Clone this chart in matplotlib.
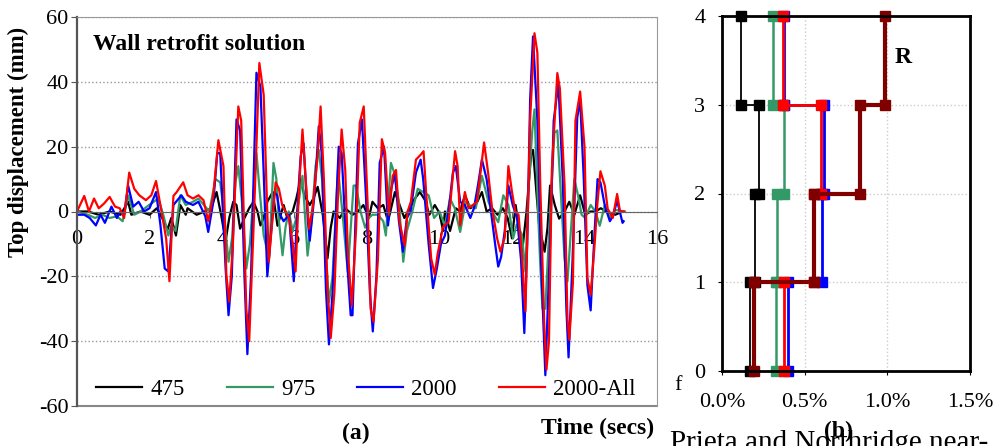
import matplotlib
matplotlib.use("Agg")
import matplotlib.pyplot as plt
from matplotlib.ticker import PercentFormatter

plt.rcParams['font.family'] = ['Liberation Serif', 'DejaVu Serif']
plt.rcParams['axes.unicode_minus'] = False

# (a) top displacement time histories, (time s, displacement mm)
d475 = [(0, 0), (0.3, 0), (0.6, -1), (0.9, 0), (1.2, -1), (1.41, 3), (1.5, -1), (1.75, 0), (2.0, -1),
        (2.2, 1), (2.35, -2), (2.5, -5.5), (2.6, -2), (2.73, -7.4), (2.85, 2), (3.0, -1), (3.05, 1),
        (3.3, -1), (3.52, 0), (3.7, 1), (3.85, 6), (3.98, -1.3), (4.1, -9), (4.2, -2), (4.31, 3),
        (4.4, 2), (4.5, -5.3), (4.62, -2), (4.75, 1), (4.87, 3), (4.98, 0), (5.06, -4.3), (5.15, -2),
        (5.25, 3), (5.4, 6), (5.53, -4.4), (5.7, 2), (5.8, -2), (5.95, 0), (6.05, 4), (6.17, 10),
        (6.27, 5), (6.42, 2), (6.52, 4), (6.64, 7.6), (6.78, -1), (6.91, -14.5), (7.0, -5), (7.08, 0),
        (7.25, -2), (7.4, 1), (7.6, -1), (7.75, 0), (7.9, 2), (8.05, -2), (8.15, 3), (8.3, 1),
        (8.45, 2), (8.58, -3), (8.77, 6), (8.9, 2), (9.03, -2), (9.18, 1), (9.32, 4), (9.46, 6),
        (9.6, 3.5), (9.72, -1), (9.87, 2), (10.0, -0.5), (10.1, -6), (10.15, 0), (10.29, -6),
        (10.45, 1), (10.57, 0), (10.7, 5), (10.85, 1), (11.0, 2), (11.17, 6), (11.3, 0), (11.45, 1),
        (11.6, -1), (11.75, 1), (11.88, -2), (12.0, -8.3), (12.1, 2), (12.28, -12.4), (12.4, 0),
        (12.53, 18), (12.58, 19), (12.68, 5), (12.75, -4.4), (12.9, -12.4), (12.98, -5), (13.05, 8),
        (13.18, 2), (13.3, -2.2), (13.45, 0), (13.58, 3), (13.72, -1), (13.88, 5), (14.02, -1),
        (14.17, 0), (14.3, 0), (14.45, 1), (14.6, 0), (14.85, -1), (15.05, 0)]

d975 = [(0, 0), (0.3, -1), (0.5, -2), (0.7, -1), (0.9, -2), (1.1, -1.5), (1.26, -3), (1.41, 5),
        (1.58, -1), (1.75, 0), (1.99, 2), (2.24, 4), (2.38, -1), (2.52, -7.4), (2.6, -4.3), (2.72, -6),
        (2.85, 5), (3.0, 2), (3.2, 3), (3.35, 4), (3.5, 2), (3.65, 0), (3.82, 10), (3.95, 9),
        (4.05, 0), (4.18, -15.5), (4.28, -8), (4.37, 9), (4.45, 14), (4.55, 3), (4.67, -17.6),
        (4.77, -10), (4.95, 18), (5.05, 5), (5.15, -7.4), (5.3, -14.5), (5.42, 15), (5.5, 10),
        (5.57, -3), (5.67, -13.5), (5.75, -5), (5.84, 0), (5.95, -6), (6.05, -2), (6.22, 11),
        (6.36, -13.6), (6.48, -2), (6.58, 14), (6.67, 19), (6.76, 10), (6.85, -10), (6.95, -28),
        (7.05, -20), (7.2, 13), (7.32, 0), (7.47, -18.5), (7.63, 8), (7.7, 8), (7.82, 0), (7.95, -5),
        (8.05, -2), (8.15, -1), (8.3, -1), (8.45, -3), (8.52, -7.4), (8.66, 15), (8.75, 12),
        (8.88, 3), (9.0, -15.5), (9.1, -6), (9.25, 0), (9.4, 7), (9.55, 6), (9.7, 5), (9.85, -2),
        (10.0, 0), (10.15, -4.4), (10.29, 4), (10.42, 1), (10.57, -6.3), (10.72, 3), (10.82, 2),
        (11.0, 1), (11.17, 11), (11.35, 3), (11.5, -1), (11.62, -3.3), (11.76, 5), (11.9, 2),
        (12.03, -8.3), (12.13, -4), (12.27, -7), (12.37, -18.5), (12.45, 6), (12.56, 25),
        (12.62, 31.5), (12.72, 0), (12.78, -16.6), (12.84, -30), (12.92, -30), (13.03, -5),
        (13.17, 24.3), (13.25, 25), (13.35, 5), (13.45, -14.5), (13.53, -21.6), (13.63, -5),
        (13.72, 10), (13.82, 5), (13.92, -1), (14.02, -2), (14.17, 2), (14.3, 0), (14.42, -4.4),
        (14.56, 2), (14.7, -2), (14.85, 0.5), (15.1, 0)]

d2000 = [(0, -1), (0.2, -1), (0.35, -2), (0.52, -4.3), (0.65, -1), (0.77, -3.5), (0.95, 1.5),
         (1.1, -2), (1.2, 0), (1.3, -1), (1.41, 8), (1.55, 1.5), (1.7, 3), (1.85, 0), (2.0, 1),
         (2.18, 6), (2.3, -4), (2.42, -17.6), (2.52, -18.5), (2.66, 2), (2.88, 5), (3.0, 3),
         (3.2, 2), (3.35, 3), (3.54, -1.5), (3.62, -6.3), (3.76, 3), (3.87, 18), (3.95, 18),
         (4.1, -17.6), (4.18, -32), (4.27, -20), (4.4, 28.4), (4.5, 25), (4.62, -20), (4.7, -44),
         (4.8, -20), (4.95, 42.8), (5.06, 38.5), (5.15, 12), (5.25, -20), (5.45, 6), (5.52, 5),
         (5.6, -1), (5.7, -3), (5.85, -1), (5.98, -21.5), (6.1, 5), (6.17, 17), (6.25, 21),
         (6.37, -3), (6.42, -9), (6.55, 5), (6.67, 26.3), (6.75, 18), (6.87, -24.7), (6.95, -41),
         (7.05, -25), (7.22, 20), (7.3, 18), (7.45, -15), (7.55, -32), (7.6, -32), (7.75, 21),
         (7.86, 28.4), (7.97, 5), (8.08, -25), (8.16, -37), (8.26, -20), (8.35, 15), (8.47, 20),
         (8.58, -4.3), (8.67, 7), (8.77, 12), (8.88, -3), (8.99, -12.4), (9.1, -2), (9.2, 0),
         (9.35, 12), (9.48, 16), (9.55, 10), (9.7, -10), (9.82, -23.6), (9.92, -18), (10.04, -10),
         (10.15, -7.4), (10.27, 2), (10.37, 12), (10.45, 14), (10.57, 3), (10.7, 2), (10.85, -2),
         (10.95, 1), (11.06, 8), (11.17, 16), (11.3, 10), (11.42, 0), (11.54, -10.5), (11.62, -17),
         (11.7, -14), (11.8, -6), (11.9, 8), (12.02, 2), (12.14, -2), (12.25, -15), (12.34, -37.5),
         (12.42, -10), (12.5, 34.5), (12.58, 54), (12.7, 28), (12.8, -15), (12.92, -50.5),
         (13.05, -10), (13.15, 28), (13.28, 39.6), (13.4, 10), (13.5, -30), (13.56, -45),
         (13.67, -15), (13.8, 29), (13.88, 34.5), (13.98, 10), (14.08, -22.7), (14.17, -30.5),
         (14.27, -8), (14.36, 10), (14.44, 9), (14.56, 1.8), (14.7, -3), (14.78, -1.5), (14.9, 3.3),
         (15.05, -3.5), (15.08, -3)]

d2000_all = [(0, 0), (0.2, 4.8), (0.33, 0), (0.47, 4), (0.6, 1), (0.75, 2.5), (0.9, 4.5), (1.05, 1.5),
             (1.18, 1), (1.3, -2), (1.44, 12), (1.58, 7), (1.72, 5), (1.9, 3.5), (2.05, 5), (2.18, 9.4),
             (2.3, 2), (2.46, -8.4), (2.55, -21.5), (2.66, 4.8), (2.75, 6), (2.93, 9), (3.05, 5),
             (3.2, 4), (3.35, 5), (3.49, 3.5), (3.62, -3), (3.76, 5), (3.9, 22), (4.04, 14),
             (4.12, -19.7), (4.2, -27.8), (4.3, -10), (4.45, 32.4), (4.53, 28), (4.67, -30), (4.75, -40),
             (4.87, -5), (5.03, 45.8), (5.15, 36), (5.29, -15.5), (5.48, 9), (5.57, 7), (5.66, 2),
             (5.75, 0), (5.85, -2), (5.95, -10), (6.03, -18.5), (6.12, 6), (6.22, 25.3), (6.32, 8),
             (6.4, -5.3), (6.5, 1), (6.63, 16), (6.72, 32.4), (6.81, 10), (6.91, -23.6), (7.0, -39),
             (7.1, -25), (7.2, 5), (7.3, 25.3), (7.4, 12.8), (7.47, -12), (7.58, -29), (7.7, -5),
             (7.8, 27.4), (7.91, 32.4), (8.02, 1.5), (8.1, -30), (8.18, -34), (8.3, -15), (8.41, 22.3),
             (8.5, 18), (8.6, -1), (8.71, 11), (8.8, 12.8), (8.9, -3.5), (9.04, -10.5), (9.12, 0),
             (9.21, 3), (9.35, 16), (9.48, 17.5), (9.56, 18.6), (9.63, 6), (9.77, -14.5), (9.87, -19.5),
             (9.95, -13), (10.1, -4.6), (10.25, -3.3), (10.43, 18.6), (10.5, 14), (10.57, -4.3),
             (10.7, 6), (10.8, 1), (10.92, 2), (11.03, 3), (11.12, 11), (11.23, 21.3), (11.34, 12),
             (11.45, 1), (11.59, -8.3), (11.68, -12.4), (11.8, -8), (11.9, 14), (12.0, 6), (12.09, 0),
             (12.18, -1), (12.28, -14.5), (12.37, -30.8), (12.5, 28.4), (12.62, 55), (12.7, 49),
             (12.78, 8), (12.89, -35), (12.95, -48.8), (13.02, -40), (13.1, 13), (13.25, 42.7),
             (13.32, 38), (13.45, 8), (13.53, -33), (13.58, -39.6), (13.68, -22), (13.75, 28),
             (13.88, 37), (14.0, 20), (14.08, -20.6), (14.17, -25.7), (14.27, -11.5), (14.36, 3),
             (14.44, 12.4), (14.56, 8), (14.64, 0.8), (14.78, -2), (14.9, 5.4), (14.98, 0), (15.1, 0)]

series_names = ['475', '975', '2000', '2000-All']
series_data = [d475, d975, d2000, d2000_all]
series_colors = ['black', '#339966', '#0000ff', '#ff0000']

# (b) storey drift (%) for storeys 1-4
storeys = [0, 1, 2, 3, 4]
drift_475 = [0.17, 0.20, 0.225, 0.115]
drift_975 = [0.326, 0.33, 0.377, 0.31]
drift_2000 = [0.40, 0.605, 0.615, 0.377]
drift_2000_all = [0.375, 0.558, 0.596, 0.367]
drift_R = [0.195, 0.558, 0.837, 0.988]


def step_profile(drifts):
    xs, ys = [], []
    for i, d in enumerate(drifts):
        xs += [d, d]
        ys += [storeys[i], storeys[i + 1]]
    return xs, ys


fig = plt.figure(figsize=(9.95, 4.46), dpi=100)

# ---- (a)
ax = fig.add_axes([77 / 995, 40 / 446, 580 / 995, 389 / 446])
for name, data, col in zip(series_names, series_data, series_colors):
    t, v = zip(*data)
    ax.plot(t, v, color=col, lw=1.6, label=name)

ax.set_xlim(0, 16)
ax.set_ylim(-60, 60)
ax.set_xticks(range(0, 17, 2))
ax.set_yticks(range(-60, 61, 20))
ax.yaxis.grid(True, ls=':', color='#999999', lw=1)
ax.spines['bottom'].set_position(('data', 0))
ax.spines['bottom'].set_color('#666666')
ax.spines['left'].set_color('#555555')
ax.spines['left'].set_linewidth(1.6)
for s in ['top', 'right']:
    ax.spines[s].set_color('#999999')
ax.axhline(-60, color='#888888', lw=1.5, clip_on=False)
ax.tick_params(axis='y', labelsize=16, length=4, pad=2, color='#555555')
ax.tick_params(axis='x', labelsize=16, length=4, direction='out', pad=9, color='#666666')

ax.text(0.027, 0.93, 'Wall retrofit solution', transform=ax.transAxes,
        fontsize=17, fontweight='bold', va='center')
ax.legend(loc='lower left', bbox_to_anchor=(-0.002, -0.038), ncol=4, frameon=False, fontsize=16.5,
          handlelength=2.0, handletextpad=0.35, columnspacing=1.85)

fig.text(18 / 995, 1 - 142 / 446, 'Top displacement (mm)', rotation=90, fontsize=16.5,
         fontweight='bold', ha='center', va='center')
fig.text(598 / 995, 1 - 428 / 446, 'Time (secs)', fontsize=17, fontweight='bold',
         ha='center', va='center')
fig.text(356 / 995, 1 - 433 / 446, '(a)', fontsize=17, fontweight='bold', ha='center', va='center')

# ---- (b)
bx = fig.add_axes([722 / 995, 75 / 446, 248 / 995, 355 / 446])
for drifts, col, lw in [(drift_475, 'black', 1.3), (drift_975, '#339966', 1.8),
                        (drift_2000, '#0000ff', 2.0), (drift_2000_all, '#ff0000', 2.0),
                        (drift_R, '#800000', 3.0)]:
    xs, ys = step_profile(drifts)
    bx.plot(xs, ys, color=col, lw=lw, marker='s', ms=6.5, clip_on=False)

bx.set_xlim(0, 1.5)
bx.set_ylim(0, 4)
bx.set_xticks([0, 0.5, 1.0, 1.5])
bx.set_yticks(storeys)
bx.xaxis.set_major_formatter(PercentFormatter(xmax=100, decimals=1))
bx.grid(True, ls=':', color='#cccccc', lw=1)
for s in bx.spines.values():
    s.set_linewidth(2)
    s.set_color('black')
bx.tick_params(labelsize=16, length=3)
bx.tick_params(axis='x', pad=13)
bx.tick_params(axis='y', pad=9)
bx.text(1.095, 3.53, 'R', fontsize=17, fontweight='bold', ha='center', va='center')

fig.text(838 / 995, 1 - 431 / 446, '(b)', fontsize=17, fontweight='bold', ha='center', va='center')
fig.text(670 / 995, 1 - 450 / 446, 'Prieta and Northridge near-', fontsize=21,
         ha='left', va='baseline')
fig.text(678 / 995, 1 - 385 / 446, 'f', fontsize=16, ha='center', va='center')

fig.savefig('out.png', dpi=100)
